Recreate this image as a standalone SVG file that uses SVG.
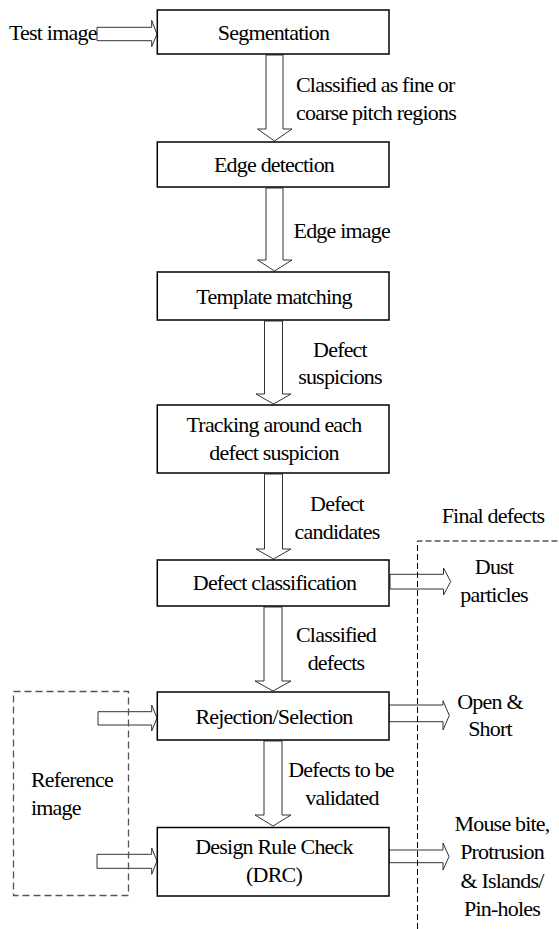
<svg xmlns="http://www.w3.org/2000/svg" width="559" height="929" viewBox="0 0 559 929">
<style>
.box{fill:#fff;stroke:#000;stroke-width:1.5}
.arr{fill:#fff;stroke:#333;stroke-width:1}
.c{text-anchor:middle}
.dash{fill:none;stroke:#000;stroke-width:1;stroke-dasharray:6,3}
.rdash{fill:none;stroke:#555;stroke-width:1.3;stroke-dasharray:7,4}
</style>
<rect width="559" height="929" fill="#fff"/>
<g id="connectors">
<polygon class="arr" points="97,27.3 151.7,27.3 151.7,20.5 157,34 151.7,46.7 151.7,40.7 97,40.7"/>
<polygon class="arr" points="266,55 283,55 283,129 292,129 274.5,141 257.5,129 266,129"/>
<polygon class="arr" points="266,188 283,188 283,260 292,260 274.5,271 257.5,260 266,260"/>
<polygon class="arr" points="264.5,321 282.5,321 282.5,394 291,394 273.5,404 256,394 264.5,394"/>
<polygon class="arr" points="264.5,474 282.5,474 282.5,549 291,549 273.5,559 256,549 264.5,549"/>
<polygon class="arr" points="264,607 282,607 282,681 291,681 273,691 255,681 264,681"/>
<polygon class="arr" points="264,741 282,741 282,815 291,815 273,826 255,815 264,815"/>
<polygon class="arr" points="390,574.3 443.5,574.3 443.5,568 450.7,581.5 443.5,595 443.5,589 390,589"/>
<polygon class="arr" points="389,705 443,705 443,700.7 449.3,715.4 443,730 443,721.7 389,721.7"/>
<polygon class="arr" points="389,850 443,850 443,843 449,856.5 443,870 443,862.7 389,862.7"/>
<polygon class="arr" points="98,711.7 151.7,711.7 151.7,705 157,718 151.7,731 151.7,725 98,725"/>
<polygon class="arr" points="97,854.3 151.7,854.3 151.7,848 157,861 151.7,874.3 151.7,868.3 97,868.3"/>
</g>
<g font-family="Liberation Serif, Times New Roman, serif" font-size="22" letter-spacing="-0.8" fill="#000">
<g id="final-defects">
<path class="dash" d="M417.5,929 V541 H559"/>
<text class="c" x="493" y="523">Final defects</text>
</g>
<g id="reference-image">
<rect class="rdash" x="13.5" y="691.5" width="115" height="204"/>
<text x="31" y="787">Reference</text>
<text x="31" y="815">image</text>
</g>
<g id="test-image"><text x="9" y="40">Test image</text></g>
<g id="segmentation"><rect class="box" x="157.3" y="10" width="231.7" height="44"/><text class="c" x="273.5" y="40">Segmentation</text></g>
<g id="edge-detection"><rect class="box" x="157.3" y="142" width="231.7" height="45"/><text class="c" x="274" y="172">Edge detection</text></g>
<g id="template-matching"><rect class="box" x="157.3" y="272" width="231.7" height="48"/><text class="c" x="274" y="304">Template matching</text></g>
<g id="tracking"><rect class="box" x="157.3" y="405" width="231.7" height="68"/><text class="c" x="274" y="432">Tracking around each</text><text class="c" x="274" y="460">defect suspicion</text></g>
<g id="defect-classification"><rect class="box" x="157.3" y="560" width="231.7" height="46"/><text class="c" x="274.5" y="590">Defect classification</text></g>
<g id="rejection-selection"><rect class="box" x="157.3" y="692" width="231.7" height="48"/><text class="c" x="274" y="723.5">Rejection/Selection</text></g>
<g id="drc"><rect class="box" x="157.3" y="827.5" width="231.7" height="68.5"/><text class="c" x="274" y="853.5">Design Rule Check</text><text class="c" x="274" y="882">(DRC)</text></g>
<g id="labels">
<text x="296" y="92">Classified as fine or</text>
<text x="296" y="119.5">coarse pitch regions</text>
<text x="293.5" y="237.5">Edge image</text>
<text class="c" x="340" y="356.5">Defect</text>
<text class="c" x="340" y="383.5">suspicions</text>
<text class="c" x="337" y="511">Defect</text>
<text class="c" x="337" y="538.5">candidates</text>
<text class="c" x="336" y="641.5">Classified</text>
<text class="c" x="336" y="669.5">defects</text>
<text class="c" x="341" y="777">Defects to be</text>
<text class="c" x="342" y="805">validated</text>
<text class="c" x="494" y="574">Dust</text>
<text class="c" x="494" y="602">particles</text>
<text class="c" x="490" y="708.5">Open &amp;</text>
<text class="c" x="490" y="736">Short</text>
<text class="c" x="502" y="830.5">Mouse bite,</text>
<text class="c" x="502" y="858.5">Protrusion</text>
<text class="c" x="502" y="888">&amp; Islands/</text>
<text class="c" x="502" y="916">Pin-holes</text>
</g>
</g>
</svg>
